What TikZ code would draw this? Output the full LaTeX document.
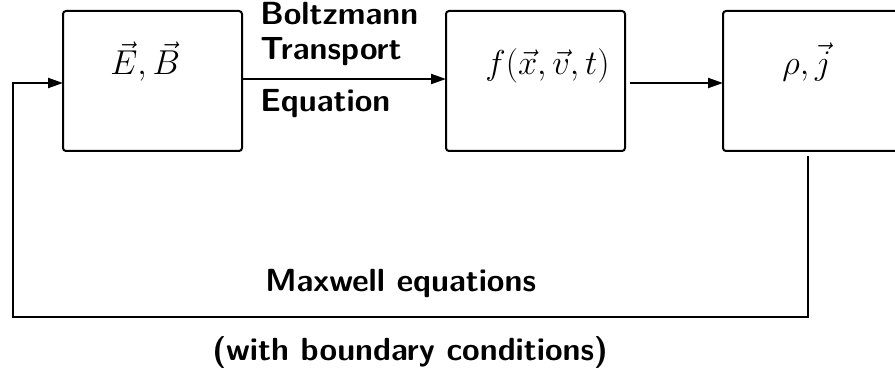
\documentclass[tikz,border=0pt]{standalone}
\usetikzlibrary{arrows.meta}
\begin{document}
\begin{tikzpicture}[x=0.5pt,y=-0.5pt,
  blk/.style={draw,line width=1pt,rounded corners=1.5pt,minimum width=89.5pt,minimum height=70pt,inner sep=0pt,outer sep=0pt},
  conn/.style={line width=1pt},
  arr/.style={conn,-{Triangle[length=7.5pt,width=5pt]}},
  mathlbl/.style={anchor=base west,inner sep=0pt,font=\fontsize{16}{19}\selectfont},
  txt/.style={anchor=base west,inner sep=0pt,font=\fontsize{16}{19}\selectfont\sffamily\bfseries}]
\useasboundingbox (0,0) rectangle (895,369);
\begin{scope}
\clip (0,0) rectangle (895,369);
\node[blk] (b1) at (152.5,81) {};
\node[blk] (b2) at (535.5,81) {};
\node[blk] (b3) at (812.5,81) {};
\node[mathlbl] (t1) at (110,75) {$\vec{E},\vec{B}$};
\node[mathlbl] (t2) at (485,75) {$f(\vec{x},\vec{v},t)$};
\node[mathlbl] (t3) at (782,75) {$\rho,\vec{j}$};
\node[txt] (l1) at (260,25) {Boltzmann};
\node[txt] (l2) at (260,60) {Transport};
\node[txt] (l3) at (260,112) {Equation};
\node[txt] (l4) at (265,292) {Maxwell equations};
\node[txt] (l5) at (212,360) {(with boundary conditions)};
\coordinate (a1) at (242,79);
\coordinate (a2s) at (630,83);
\coordinate (f0) at (808,156);
\coordinate (f1) at (808,317);
\coordinate (f2) at (13,317);
\coordinate (f3) at (13,83);
\draw[arr] (a1) -- (b2.west |- a1);
\draw[arr] (a2s) -- (b3.west |- a2s);
\draw[arr] (f0) -- (f1) -- (f2) -- (f3) -- (b1.west |- f3);
\end{scope}
\end{tikzpicture}
\end{document}
